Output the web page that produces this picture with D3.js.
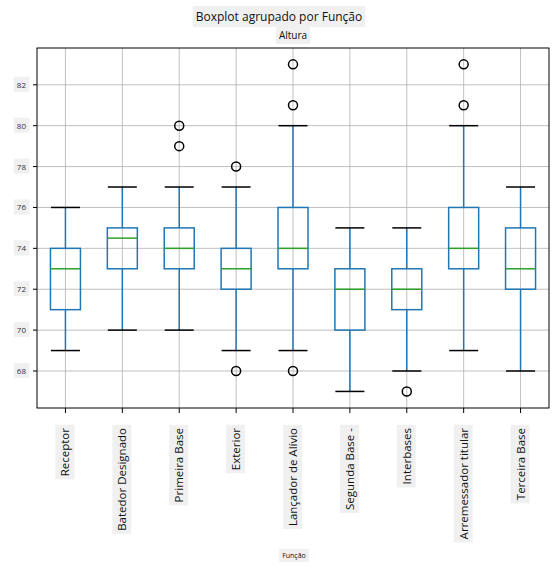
<!DOCTYPE html>
<html><head><meta charset="utf-8">
<script src="https://cdn.jsdelivr.net/npm/d3@7"></script>
<style>body{margin:0;background:#fff}text{font-family:"Open Sans",sans-serif}</style>
</head><body><svg width="559" height="573"></svg>
<script>
const categories = ["Receptor","Batedor Designado","Primeira Base","Exterior","Lançador de Alívio","Segunda Base -","Interbases","Arremessador titular","Terceira Base"];
const whiskerLow = [69,70,70,69,69,67,68,69,68];
const q1 = [71,73,73,72,73,70,71,73,72];
const median = [73,74.5,74,73,74,72,72,74,73];
const q3 = [74,75,75,74,76,73,73,76,75];
const whiskerHigh = [76,77,77,77,80,75,75,80,77];
const outliers = [[],[],[79,80],[78,68],[83,81,68],[],[67],[83,81],[]];
const yTicks = [68,70,72,74,76,78,80,82];

const svg = d3.select("svg");
const m = {l:37, r:549, t:48, b:408};
const x = d3.scaleBand().domain(categories).range([m.l, m.r]);
const y = d3.scaleLinear().domain([66.19, 83.8]).range([m.b, m.t]);
const bw = 30;

const g = svg.append("g");
// grid
g.selectAll(".gx").data(categories).enter().append("line")
  .attr("x1", d => x(d)+x.bandwidth()/2).attr("x2", d => x(d)+x.bandwidth()/2)
  .attr("y1", m.t).attr("y2", m.b).attr("stroke","#b0b0b0").attr("stroke-width",0.8);
g.selectAll(".gy").data(yTicks).enter().append("line")
  .attr("x1", m.l).attr("x2", m.r).attr("y1", d => y(d)).attr("y2", d => y(d))
  .attr("stroke","#b0b0b0").attr("stroke-width",0.8);

const data = categories.map((c,i) => ({c, lo:whiskerLow[i], q1:q1[i], med:median[i], q3:q3[i], hi:whiskerHigh[i], out:outliers[i]}));
const cx = d => x(d.c)+x.bandwidth()/2;
const blue = "#1f77b4";
const box = g.selectAll(".box").data(data).enter().append("g");
box.append("line").attr("x1",cx).attr("x2",cx).attr("y1",d=>y(d.lo)).attr("y2",d=>y(d.q1)).attr("stroke",blue).attr("stroke-width",1.5);
box.append("line").attr("x1",cx).attr("x2",cx).attr("y1",d=>y(d.q3)).attr("y2",d=>y(d.hi)).attr("stroke",blue).attr("stroke-width",1.5);
box.append("line").attr("x1",d=>cx(d)-bw/4-7).attr("x2",d=>cx(d)+bw/4+7).attr("y1",d=>y(d.lo)).attr("y2",d=>y(d.lo)).attr("stroke","#000").attr("stroke-width",1.5);
box.append("line").attr("x1",d=>cx(d)-bw/4-7).attr("x2",d=>cx(d)+bw/4+7).attr("y1",d=>y(d.hi)).attr("y2",d=>y(d.hi)).attr("stroke","#000").attr("stroke-width",1.5);
box.append("rect").attr("x",d=>cx(d)-bw/2).attr("width",bw).attr("y",d=>y(d.q3)).attr("height",d=>y(d.q1)-y(d.q3))
  .attr("fill","none").attr("stroke",blue).attr("stroke-width",1.5);
box.append("line").attr("x1",d=>cx(d)-bw/2).attr("x2",d=>cx(d)+bw/2).attr("y1",d=>y(d.med)).attr("y2",d=>y(d.med)).attr("stroke","#2ca02c").attr("stroke-width",1.5);
box.selectAll("circle").data(d => d.out.map(v => ({v, c:cx(d)}))).enter().append("circle")
  .attr("cx", d => d.c).attr("cy", d => y(d.v)).attr("r",4.5).attr("fill","none").attr("stroke","#000").attr("stroke-width",1.5);

// frame
svg.append("rect").attr("x",m.l).attr("y",m.t).attr("width",m.r-m.l).attr("height",m.b-m.t).attr("fill","none").attr("stroke","#000").attr("stroke-width",1);

function labelBg(t){
  const b = t.node().getBBox();
  t.node().parentNode.insertBefore(document.createElementNS("http://www.w3.org/2000/svg","rect"), t.node());
  d3.select(t.node().previousSibling).attr("x",b.x-3).attr("y",b.y-2).attr("width",b.width+6).attr("height",b.height+4).attr("fill","#f0f0f0");
}

// y axis
yTicks.forEach(v => {
  svg.append("line").attr("x1",m.l-4).attr("x2",m.l).attr("y1",y(v)).attr("y2",y(v)).attr("stroke","#000");
  const gt = svg.append("g");
  const t = gt.append("text").attr("x",m.l-11).attr("y",y(v)+3).attr("text-anchor","end").attr("font-size",8).attr("fill","#333").text(v);
  labelBg(t);
});
// x axis
categories.forEach(c => {
  const px = x(c)+x.bandwidth()/2;
  svg.append("line").attr("x1",px).attr("x2",px).attr("y1",m.b).attr("y2",m.b+5).attr("stroke","#000");
  const gt = svg.append("g").attr("transform",`translate(${px+4},${m.b+20}) rotate(-90)`);
  const t = gt.append("text").attr("text-anchor","end").attr("font-size",11.5).attr("fill","#111").text(c);
  labelBg(t);
});
[["Boxplot agrupado por Função",279,21,12],["Altura",293,39,10],["Função",294,558,7]].forEach(([s,px,py,fs]) => {
  const gt = svg.append("g");
  const t = gt.append("text").attr("x",px).attr("y",py).attr("text-anchor","middle").attr("font-size",fs).attr("fill","#111").text(s);
  labelBg(t);
});
</script></body></html>
